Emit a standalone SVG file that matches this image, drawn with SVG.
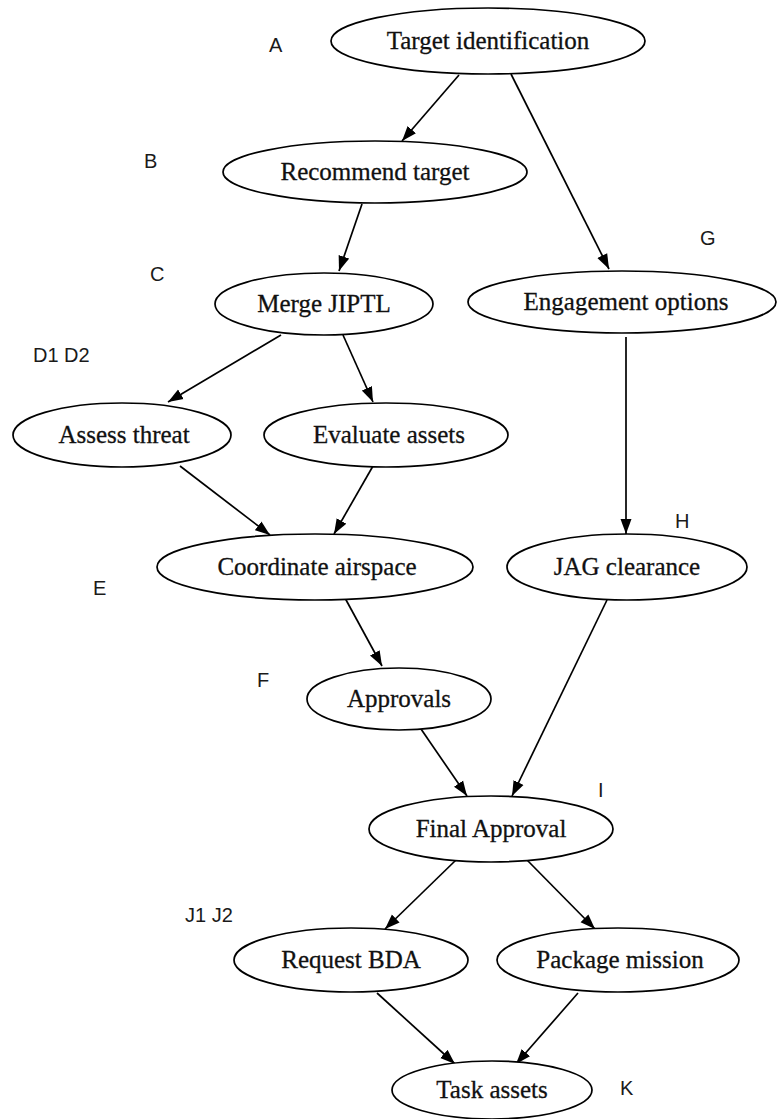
<svg xmlns="http://www.w3.org/2000/svg" width="777" height="1119" viewBox="0 0 777 1119">
<style>
.n ellipse{fill:#fff;stroke:#000;stroke-width:1.7}
.n text{font-family:"Liberation Serif","Times New Roman",serif;font-size:25px;fill:#111;stroke:#111;stroke-width:0.3;text-anchor:middle}
.lb{font-family:"Liberation Sans",Arial,sans-serif;font-size:20px;fill:#1a1a1a}
.e line{stroke:#000;stroke-width:1.7;marker-end:url(#ah)}
</style>
<defs>
<marker id="ah" viewBox="0 0 15 12" refX="15" refY="6" markerWidth="15" markerHeight="12" markerUnits="userSpaceOnUse" orient="auto"><path d="M0,0.5 L15,6 L0,11.5 Z" fill="#000"/></marker>
</defs>
<rect width="777" height="1119" fill="#fff"/>
<g id="labels">
<text class="lb" x="269" y="52">A</text>
<text class="lb" x="144" y="168">B</text>
<text class="lb" x="150" y="281">C</text>
<text class="lb" x="33" y="362">D1 D2</text>
<text class="lb" x="700" y="245">G</text>
<text class="lb" x="93" y="595">E</text>
<text class="lb" x="675" y="528">H</text>
<text class="lb" x="257" y="687">F</text>
<text class="lb" x="598" y="797">I</text>
<text class="lb" x="185" y="922">J1 J2</text>
<text class="lb" x="620" y="1095">K</text>
</g>
<g id="connectors" class="e">
<line x1="459" y1="75" x2="402" y2="141"/>
<line x1="511" y1="74" x2="609" y2="269"/>
<line x1="362" y1="204" x2="339" y2="271"/>
<line x1="626" y1="337" x2="626" y2="534"/>
<line x1="281" y1="335" x2="168" y2="402"/>
<line x1="343" y1="335" x2="373" y2="402"/>
<line x1="180" y1="466" x2="270" y2="535"/>
<line x1="373" y1="466" x2="334" y2="534"/>
<line x1="345" y1="598" x2="382" y2="666"/>
<line x1="421" y1="729" x2="467" y2="796"/>
<line x1="607" y1="600" x2="512" y2="796"/>
<line x1="456" y1="860" x2="385" y2="929"/>
<line x1="527" y1="860" x2="595" y2="929"/>
<line x1="377" y1="993" x2="455" y2="1064"/>
<line x1="578" y1="993" x2="516" y2="1064"/>
</g>
<g id="A" class="n"><ellipse cx="488" cy="41" rx="157" ry="33"/><text x="488" y="49">Target identification</text></g>
<g id="B" class="n"><ellipse cx="375" cy="172" rx="152" ry="31"/><text x="375" y="180">Recommend target</text></g>
<g id="C" class="n"><ellipse cx="324" cy="304" rx="109" ry="31"/><text x="324" y="312">Merge JIPTL</text></g>
<g id="G" class="n"><ellipse cx="622" cy="302" rx="154" ry="31"/><text x="626" y="310">Engagement options</text></g>
<g id="D1" class="n"><ellipse cx="122" cy="435" rx="109" ry="32"/><text x="124" y="443">Assess threat</text></g>
<g id="D2" class="n"><ellipse cx="386" cy="435" rx="122" ry="32"/><text x="389" y="443">Evaluate assets</text></g>
<g id="E" class="n"><ellipse cx="315" cy="567" rx="158" ry="33"/><text x="317" y="575">Coordinate airspace</text></g>
<g id="H" class="n"><ellipse cx="627" cy="567" rx="120" ry="33"/><text x="627" y="575">JAG clearance</text></g>
<g id="F" class="n"><ellipse cx="399" cy="699" rx="92" ry="31"/><text x="399" y="707">Approvals</text></g>
<g id="I" class="n"><ellipse cx="491" cy="829" rx="122" ry="33"/><text x="491" y="837">Final Approval</text></g>
<g id="J1" class="n"><ellipse cx="351" cy="960" rx="117" ry="32"/><text x="351" y="968">Request BDA</text></g>
<g id="J2" class="n"><ellipse cx="618" cy="960" rx="121" ry="32"/><text x="620" y="968">Package mission</text></g>
<g id="K" class="n"><ellipse cx="492" cy="1090" rx="100" ry="29"/><text x="492" y="1098">Task assets</text></g>
</svg>
